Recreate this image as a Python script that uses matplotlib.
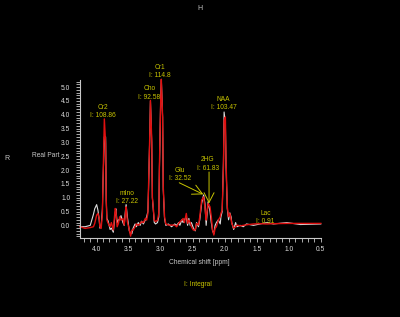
import matplotlib
matplotlib.use("Agg")
import matplotlib.pyplot as plt
from matplotlib.ticker import MultipleLocator, FormatStrFormatter

plt.rcParams['font.family'] = ['Liberation Sans', 'DejaVu Sans']

# chemical shift grid (ppm)
ppm = [4.26, 4.18, 4.10, 4.05, 4.03, 4.00, 3.98, 3.96, 3.95, 3.93, 3.91, 3.90, 3.88, 3.86, 3.85,
       3.84, 3.82, 3.79, 3.77, 3.74, 3.71, 3.70, 3.68, 3.66, 3.64, 3.62, 3.59, 3.57, 3.55, 3.54,
       3.52, 3.49, 3.47, 3.45, 3.43, 3.40, 3.38, 3.35, 3.32, 3.30, 3.27, 3.24, 3.22, 3.20, 3.19,
       3.17, 3.16, 3.14, 3.13, 3.10, 3.08, 3.05, 3.03, 3.02, 3.00, 2.99, 2.97, 2.96, 2.94, 2.92,
       2.88, 2.83, 2.78, 2.75, 2.72, 2.70, 2.67, 2.65, 2.63, 2.60, 2.58, 2.56, 2.54, 2.52, 2.49,
       2.46, 2.44, 2.41, 2.39, 2.36, 2.33, 2.31, 2.29, 2.28, 2.26, 2.23, 2.21, 2.19, 2.17, 2.15,
       2.13, 2.10, 2.07, 2.06, 2.04, 2.02, 2.01, 1.99, 1.98, 1.96, 1.94, 1.92, 1.90, 1.89, 1.86,
       1.83, 1.81, 1.76, 1.71, 1.66, 1.55, 1.45, 1.34, 1.24, 1.03, 0.82, 0.50]

# fitted spectrum (red)
fit_vals = [-0.05, -0.11, -0.08, -0.05, 0.07, 0.37, 0.43, 0.25, -0.05, -0.11, 0.43, 1.64, 3.85, 2.96, 0.91,
            0.19, 0.07, -0.05, 0.10, -0.17, 0.61, 0.55, -0.05, 0.07, 0.31, 0.19, 0.25, 0.01, 0.43, 0.67,
            0.13, -0.17, -0.39, -0.17, -0.17, -0.05, 0.05, 0.00, 0.07, 0.13, 0.10, 0.25, 0.19, 0.43, 1.40,
            3.32, 4.52, 3.08, 1.03, 0.19, 0.13, 0.19, 0.43, 2.12, 4.50, 5.28, 3.92, 1.40, 0.31, 0.05,
            0.01, 0.01, 0.01, -0.05, 0.07, 0.13, 0.19, 0.25, 0.10, 0.43, 0.07, 0.19, 0.10, -0.05, -0.17,
            -0.17, 0.07, 0.01, 0.31, 0.91, 1.03, 0.67, 0.19, 0.43, 0.79, 0.67, 0.31, -0.17, -0.35, -0.11,
            -0.05, 0.19, 0.31, 0.43, 0.55, 2.12, 3.80, 3.92, 2.36, 0.67, 0.31, 0.43, 0.19, 0.07, -0.10,
            -0.05, 0.01, -0.02, 0.00, 0.02, 0.05, 0.06, 0.05, 0.06, 0.07, 0.07, 0.07]

# measured real part (white)
data_vals = [-0.05, -0.05, 0.00, 0.40, 0.60, 0.75, 0.55, 0.20, -0.10, -0.05, 0.60, 1.64, 3.20, 3.20, 0.90,
             0.25, 0.15, -0.15, -0.10, -0.25, 0.45, 0.60, 0.10, 0.20, 0.20, 0.35, 0.10, 0.00, 0.55, 0.75,
             0.30, -0.20, -0.30, -0.30, -0.10, 0.05, -0.05, 0.10, 0.00, 0.15, 0.05, 0.20, 0.30, 0.50, 1.30,
             3.30, 4.50, 3.00, 1.00, 0.10, 0.05, 0.10, 0.30, 2.00, 4.60, 5.28, 3.90, 1.30, 0.25, 0.00,
             0.05, -0.05, 0.05, 0.00, 0.10, 0.00, 0.20, 0.10, 0.20, 0.30, 0.00, 0.25, 0.00, 0.10, -0.10,
             -0.20, 0.10, -0.05, 0.20, 0.80, 1.10, 0.80, 0.00, 0.30, 0.85, 0.50, 0.10, -0.20, -0.30, 0.00,
             0.10, 0.20, 0.05, 0.30, 0.50, 2.30, 4.10, 3.70, 2.20, 0.60, 0.20, 0.45, 0.30, 0.10, -0.15,
             0.10, -0.05, 0.00, -0.05, 0.05, 0.00, 0.05, 0.10, 0.05, 0.10, 0.03, 0.05]

# peak labels and integrals
names = ["Cr2", "mIno", "Cho", "Cr1", "NAA", "Glu", "2HG", "Lac"]
integrals = ["108.86", "27.22", "92.58", "114.8", "103.47", "32.52", "61.83", "0.91"]

label_pos = [(3.906, 4.12), (3.53, 1.01), (3.178, 4.79), (3.006, 5.56),
             (2.019, 4.41), (2.694, 1.83), (2.266, 2.22), (1.361, 0.29)]
arrows = {"Glu": ((2.71, 1.54), (2.334, 1.12)), "2HG": ((2.245, 1.93), (2.245, 0.79))}

yellow = '#c8c400'
grey = '#c8c8c8'

fig = plt.figure(figsize=(4, 3.17), dpi=100, facecolor='black')
ax = fig.add_axes([0.2, 0.249, 0.602, 0.498])
ax.set_facecolor('black')

ax.plot(ppm, data_vals, color='#dcdcdc', lw=0.8, clip_on=False)
ax.plot(ppm, fit_vals, color='#e01010', lw=1.0, clip_on=False)

ax.set_xlim(4.26, 0.5)
ax.set_ylim(-0.46, 5.25)

for s in ['top', 'right']:
    ax.spines[s].set_visible(False)
for s in ['left', 'bottom']:
    ax.spines[s].set_color(grey)
    ax.spines[s].set_linewidth(0.8)

ax.xaxis.set_major_locator(MultipleLocator(0.5))
ax.xaxis.set_minor_locator(MultipleLocator(0.1))
ax.yaxis.set_major_locator(MultipleLocator(0.5))
ax.yaxis.set_minor_locator(MultipleLocator(0.1))
ax.xaxis.set_major_formatter(FormatStrFormatter('%.1f'))
ax.yaxis.set_major_formatter(FormatStrFormatter('%.1f'))
ax.tick_params(which='both', direction='out', length=3, width=0.6, colors=grey,
               labelsize=4.8, labelcolor='#dddddd')
ax.tick_params(axis='x', pad=2.5)
ax.tick_params(axis='y', pad=4)

for n, integ, (px, py) in zip(names, integrals, label_pos):
    ax.text(px, py, n + "\nI: " + integ, color=yellow, fontsize=4.8,
            ha='center', va='center', linespacing=1.25)

for n, (tail, tip) in arrows.items():
    ax.annotate("", xy=tip, xytext=tail,
                arrowprops=dict(arrowstyle='->,head_length=0.35,head_width=0.18',
                                color=yellow, lw=0.7, mutation_scale=20,
                                shrinkA=0, shrinkB=0))

fig.text(200/400, 1 - 8/317, "H", color=grey, fontsize=5, ha='center', va='center')
fig.text(7/400, 1 - 158/317, "R", color=grey, fontsize=5, ha='center', va='center')
fig.text(60/400, 1 - 155/317, "Real Part", color=grey, fontsize=4.8, ha='right', va='center')
fig.text(199/400, 1 - 263/317, "Chemical shift [ppm]", color=grey, fontsize=4.8,
         ha='center', va='center')
fig.text(198/400, 1 - 285/317, "I: Integral", color=yellow, fontsize=4.8,
         ha='center', va='center')

fig.savefig("out.png", dpi=100, facecolor='black')
